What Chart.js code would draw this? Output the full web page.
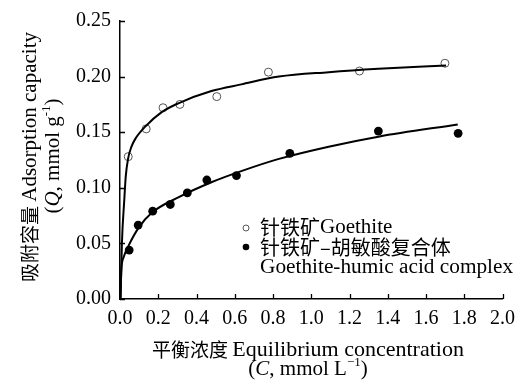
<!DOCTYPE html>
<html>
<head>
<meta charset="utf-8">
<script src="https://cdn.jsdelivr.net/npm/chart.js@4/dist/chart.umd.min.js"></script>
<style>
  html, body { margin: 0; padding: 0; background: #fff; }
  #wrap { width: 523px; height: 380px; position: relative; }
</style>
</head>
<body>
<div id="wrap"><canvas id="c"></canvas></div>
<script>
// Measured points: equilibrium concentration C (mmol/L) and adsorbed amount Q (mmol/g)
const goethiteC = [0.043, 0.137, 0.225, 0.313, 0.506, 0.776, 1.252, 1.699];
const goethiteQ = [0.128, 0.153, 0.172, 0.175, 0.182, 0.204, 0.205, 0.212];

const complexC = [0.048, 0.095, 0.171, 0.263, 0.352, 0.454, 0.609, 0.888, 1.351, 1.768];
const complexQ = [0.044, 0.0665, 0.079, 0.085, 0.0955, 0.107, 0.111, 0.131, 0.151, 0.149];

// Fitted isotherm curves, sampled along the drawn lines
const goethiteFitC = [0.003, 0.010, 0.022, 0.030, 0.042, 0.060, 0.080, 0.132, 0.218, 0.305, 0.478, 0.634, 0.831, 1.091, 1.351, 1.705];
const goethiteFitQ = [0.000, 0.050, 0.088, 0.110, 0.126, 0.137, 0.144, 0.155, 0.168, 0.176, 0.187, 0.193, 0.200, 0.204, 0.207, 0.210];

const complexFitC = [0.002, 0.007, 0.019, 0.045, 0.097, 0.166, 0.305, 0.478, 0.634, 0.831, 1.091, 1.351, 1.766];
const complexFitQ = [0.000, 0.026, 0.0375, 0.048, 0.064, 0.0775, 0.0914, 0.105, 0.115, 0.126, 0.137, 0.146, 0.157];

// Axis ticks
const xTicks = [0.0, 0.2, 0.4, 0.6, 0.8, 1.0, 1.2, 1.4, 1.6, 1.8, 2.0];
const yTicks = [0.00, 0.05, 0.10, 0.15, 0.20, 0.25];

// Legend text
const legendGoethite = ['针铁矿', 'Goethite'];
const legendComplex = ['针铁矿–胡敏酸复合体', 'Goethite-humic acid complex'];

const SERIF = '"Liberation Serif", "Times New Roman", serif';
const CJK = '"Noto Sans CJK SC", sans-serif';

const pts = (xs, ys) => xs.map((x, i) => ({ x: x, y: ys[i] }));

// Draws a run of text segments; each segment may have its own font and a vertical offset
function drawRuns(ctx, runs, x, y, align) {
  let total = 0;
  runs.forEach(r => { ctx.font = r.font; r.w = ctx.measureText(r.t).width; total += r.w; });
  let cx = align === 'center' ? x - total / 2 : x;
  runs.forEach(r => {
    ctx.font = r.font;
    ctx.textAlign = 'left';
    ctx.textBaseline = 'middle';
    ctx.fillText(r.t, cx, y + (r.dy || 0));
    cx += r.w;
  });
}

const decorPlugin = {
  id: 'decor',
  afterDraw(chart) {
    const ctx = chart.ctx;
    const xs = chart.scales.x, ys = chart.scales.y;
    const ca = chart.chartArea;
    ctx.save();
    ctx.strokeStyle = '#000';
    ctx.lineWidth = 1.3;
    // inward tick marks
    ctx.beginPath();
    xTicks.forEach(v => {
      const px = Math.round(xs.getPixelForValue(v)) + 0.5;
      ctx.moveTo(px, ca.bottom);
      ctx.lineTo(px, ca.bottom - 5);
    });
    yTicks.forEach(v => {
      const py = Math.round(ys.getPixelForValue(v)) + 0.5;
      ctx.moveTo(ca.left, py);
      ctx.lineTo(ca.left + 5, py);
    });
    ctx.stroke();

    ctx.fillStyle = '#000';
    // x-axis title
    drawRuns(ctx, [
      { t: '平衡浓度 ', font: '19px ' + CJK },
      { t: 'Equilibrium concentration', font: '22px ' + SERIF }
    ], 308, 350, 'center');
    drawRuns(ctx, [
      { t: '(', font: '21px ' + SERIF },
      { t: 'C', font: 'italic 21px ' + SERIF },
      { t: ', mmol L', font: '21px ' + SERIF },
      { t: '−1', font: '13px ' + SERIF, dy: -6 },
      { t: ')', font: '21px ' + SERIF }
    ], 308, 369, 'center');

    // y-axis title (rotated)
    ctx.save();
    ctx.translate(30, 157);
    ctx.rotate(-Math.PI / 2);
    drawRuns(ctx, [
      { t: '吸附容量 ', font: '19px ' + CJK },
      { t: 'Adsorption capacity', font: '21px ' + SERIF }
    ], 0, 0, 'center');
    ctx.restore();
    ctx.save();
    ctx.translate(53, 156);
    ctx.rotate(-Math.PI / 2);
    drawRuns(ctx, [
      { t: '(', font: '21px ' + SERIF },
      { t: 'Q', font: 'italic 21px ' + SERIF },
      { t: ', mmol g', font: '21px ' + SERIF },
      { t: '-1', font: '13px ' + SERIF, dy: -6 },
      { t: ')', font: '21px ' + SERIF }
    ], 0, 0, 'center');
    ctx.restore();

    // legend
    ctx.lineWidth = 1;
    ctx.strokeStyle = '#555';
    ctx.beginPath();
    ctx.arc(246, 228, 3, 0, Math.PI * 2);
    ctx.stroke();
    ctx.fillStyle = '#000';
    ctx.beginPath();
    ctx.arc(246, 247, 3.3, 0, Math.PI * 2);
    ctx.fill();
    drawRuns(ctx, [
      { t: legendGoethite[0], font: '20px ' + CJK },
      { t: legendGoethite[1], font: '21px ' + SERIF }
    ], 260, 227, 'left');
    drawRuns(ctx, [
      { t: legendComplex[0], font: '20px ' + CJK }
    ], 260, 247, 'left');
    drawRuns(ctx, [
      { t: legendComplex[1], font: '21.3px ' + SERIF }
    ], 260, 267, 'left');
    ctx.restore();
  }
};

new Chart(document.getElementById('c'), {
  type: 'scatter',
  data: {
    datasets: [
      {
        label: 'goethite fit',
        data: pts(goethiteFitC, goethiteFitQ),
        showLine: true,
        borderColor: '#000',
        borderWidth: 2,
        pointRadius: 0,
        cubicInterpolationMode: 'monotone',
        fill: false
      },
      {
        label: 'complex fit',
        data: pts(complexFitC, complexFitQ),
        showLine: true,
        borderColor: '#000',
        borderWidth: 2,
        pointRadius: 0,
        cubicInterpolationMode: 'monotone',
        fill: false
      },
      {
        label: 'Goethite',
        data: pts(goethiteC, goethiteQ),
        pointStyle: 'circle',
        pointRadius: 4,
        pointBorderWidth: 1,
        pointBorderColor: '#555',
        pointBackgroundColor: '#fff'
      },
      {
        label: 'Goethite-humic acid complex',
        data: pts(complexC, complexQ),
        pointStyle: 'circle',
        pointRadius: 4.4,
        pointBorderWidth: 0,
        pointBorderColor: '#000',
        pointBackgroundColor: '#000'
      }
    ]
  },
  options: {
    responsive: true,
    maintainAspectRatio: false,
    animation: false,
    layout: { padding: { left: 0, right: 18, top: 17, bottom: 0 } },
    plugins: {
      legend: { display: false },
      tooltip: { enabled: false }
    },
    scales: {
      x: {
        type: 'linear',
        min: 0,
        max: 2.0,
        afterFit(scale) { scale.height = 81; },
        afterBuildTicks(scale) { scale.ticks = xTicks.map(v => ({ value: v })); },
        grid: { display: false, drawTicks: false },
        border: { display: true, color: '#000', width: 1.5 },
        ticks: {
          color: '#000',
          padding: 8,
          maxRotation: 0,
          autoSkip: false,
          font: { family: SERIF, size: 20 },
          callback: v => v.toFixed(1)
        }
      },
      y: {
        type: 'linear',
        min: 0,
        max: 0.25,
        afterFit(scale) { scale.width = 120; },
        afterBuildTicks(scale) { scale.ticks = yTicks.map(v => ({ value: v })); },
        grid: { display: false, drawTicks: false },
        border: { display: true, color: '#000', width: 1.5 },
        ticks: {
          color: '#000',
          padding: 9,
          autoSkip: false,
          font: { family: SERIF, size: 20 },
          callback: v => v.toFixed(2)
        }
      }
    }
  },
  plugins: [decorPlugin]
});
</script>
</body>
</html>
